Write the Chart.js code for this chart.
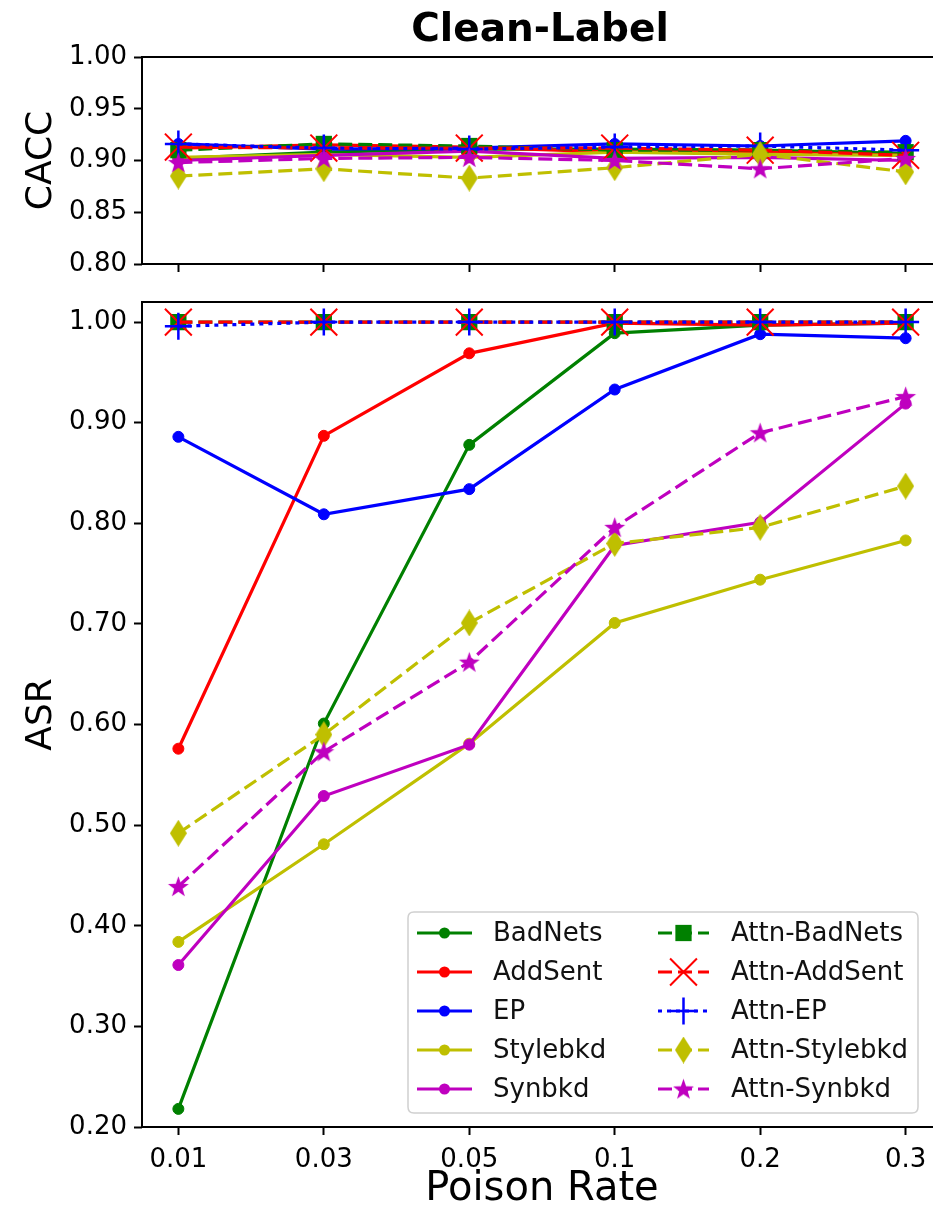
<!DOCTYPE html>
<html><head><meta charset="utf-8">
<script src="https://cdn.jsdelivr.net/npm/chart.js@4.4.1/dist/chart.umd.min.js"></script>
<style>
html,body{margin:0;padding:0;background:#fff;overflow:hidden;width:933px;height:1210px;}
#wrap{position:relative;width:933px;height:1210px;overflow:hidden;background:#fff;}
#c1{position:absolute;left:0;top:0;}
#c2{position:absolute;left:0;top:260px;}
</style></head><body>
<div id="wrap"><canvas id="c1" width="963" height="290"></canvas><canvas id="c2" width="963" height="954"></canvas></div>
<script>
// ---------------- DATA ----------------
const poisonRates = ['0.01', '0.03', '0.05', '0.1', '0.2', '0.3'];
const seriesNames = ['BadNets', 'AddSent', 'EP', 'Stylebkd', 'Synbkd',
  'Attn-BadNets', 'Attn-AddSent', 'Attn-EP', 'Attn-Stylebkd', 'Attn-Synbkd'];
const caccTicks = [0.80, 0.85, 0.90, 0.95, 1.00];
const asrTicks = [0.20, 0.30, 0.40, 0.50, 0.60, 0.70, 0.80, 0.90, 1.00];

// CACC (top panel)
const caccBadNets      = [0.902, 0.908, 0.911, 0.911, 0.910, 0.907];
const caccAddSent      = [0.912, 0.915, 0.913, 0.908, 0.908, 0.905];
const caccEP           = [0.916, 0.911, 0.912, 0.916, 0.914, 0.919];
const caccStylebkd     = [0.903, 0.906, 0.903, 0.908, 0.906, 0.905];
const caccSynbkd       = [0.900, 0.905, 0.909, 0.902, 0.903, 0.900];
const caccAttnBadNets  = [0.910, 0.916, 0.914, 0.910, 0.910, 0.908];
const caccAttnAddSent  = [0.913, 0.912, 0.912, 0.912, 0.910, 0.905];
const caccAttnEP       = [0.916, 0.912, 0.911, 0.913, 0.914, 0.910];
const caccAttnStylebkd = [0.885, 0.892, 0.883, 0.893, 0.906, 0.889];
const caccAttnSynbkd   = [0.898, 0.902, 0.903, 0.900, 0.892, 0.902];

// ASR (bottom panel)
const asrBadNets      = [0.218, 0.601, 0.878, 0.989, 0.997, 0.999];
const asrAddSent      = [0.576, 0.887, 0.969, 0.999, 0.997, 0.999];
const asrEP           = [0.886, 0.809, 0.834, 0.933, 0.988, 0.984];
const asrStylebkd     = [0.384, 0.481, 0.581, 0.701, 0.744, 0.783];
const asrSynbkd       = [0.361, 0.529, 0.580, 0.778, 0.801, 0.919];
const asrAttnBadNets  = [1.000, 1.000, 1.000, 1.000, 1.000, 1.000];
const asrAttnAddSent  = [1.000, 1.000, 1.000, 1.000, 1.000, 1.000];
const asrAttnEP       = [0.996, 1.000, 1.000, 1.000, 1.000, 1.000];
const asrAttnStylebkd = [0.492, 0.590, 0.701, 0.780, 0.796, 0.837];
const asrAttnSynbkd   = [0.439, 0.573, 0.662, 0.796, 0.890, 0.926];

const caccSeries = [caccBadNets, caccAddSent, caccEP, caccStylebkd, caccSynbkd,
  caccAttnBadNets, caccAttnAddSent, caccAttnEP, caccAttnStylebkd, caccAttnSynbkd];
const asrSeries = [asrBadNets, asrAddSent, asrEP, asrStylebkd, asrSynbkd,
  asrAttnBadNets, asrAttnAddSent, asrAttnEP, asrAttnStylebkd, asrAttnSynbkd];

// ---------------- STYLES ----------------
const GREEN = '#008000', RED = '#ff0000', BLUE = '#0000ff', YEL = '#bfbf00', MAG = '#bf00bf';
const seriesColors = [GREEN, RED, BLUE, YEL, MAG, GREEN, RED, BLUE, YEL, MAG];

function makeDiamond(color, w, h) {
  const c = document.createElement('canvas'); c.width = w; c.height = h;
  const g = c.getContext('2d'); g.fillStyle = color;
  g.beginPath(); g.moveTo(w / 2, 0); g.lineTo(w, h / 2); g.lineTo(w / 2, h); g.lineTo(0, h / 2); g.closePath(); g.fill();
  return c;
}
function makeStar(color, size) {
  const c = document.createElement('canvas'); c.width = size; c.height = size;
  const g = c.getContext('2d'); g.fillStyle = color;
  const cx = size / 2, cy = size / 2 + 0.8, R = size / 2 - 0.5, r = R * 0.4;
  g.beginPath();
  for (let i = 0; i < 10; i++) {
    const a = -Math.PI / 2 + i * Math.PI / 5;
    const rr = i % 2 === 0 ? R : r;
    const px = cx + rr * Math.cos(a), py = cy + rr * Math.sin(a);
    if (i === 0) g.moveTo(px, py); else g.lineTo(px, py);
  }
  g.closePath(); g.fill();
  return c;
}
const diamondImg = makeDiamond(YEL, 17, 27);
const starImg = makeStar(MAG, 23);

const DASH = [14, 6], DOT = [4, 5];
const styleOf = [
  { dash: [], ps: 'circle', pr: 5.5, pbw: 1 },
  { dash: [], ps: 'circle', pr: 5.5, pbw: 1 },
  { dash: [], ps: 'circle', pr: 5.5, pbw: 1 },
  { dash: [], ps: 'circle', pr: 5.5, pbw: 1 },
  { dash: [], ps: 'circle', pr: 5.5, pbw: 1 },
  { dash: DASH, ps: 'rect', pr: 11.5, pbw: 0 },
  { dash: DASH, ps: 'crossRot', pr: 19, pbw: 2 },
  { dash: DOT, ps: 'cross', pr: 13.5, pbw: 2.5 },
  { dash: DASH, ps: diamondImg, pr: 10, pbw: 0 },
  { dash: DASH, ps: starImg, pr: 10, pbw: 0 }
];

function buildDatasets(values) {
  return seriesNames.map((name, i) => ({
    label: name,
    data: values[i].map((v, j) => ({ x: j, y: v })),
    borderColor: seriesColors[i],
    backgroundColor: seriesColors[i],
    pointBackgroundColor: seriesColors[i],
    pointBorderColor: seriesColors[i],
    borderWidth: 3.2,
    borderDash: styleOf[i].dash,
    pointStyle: styleOf[i].ps,
    pointRadius: styleOf[i].pr,
    pointHoverRadius: styleOf[i].pr,
    pointBorderWidth: styleOf[i].pbw,
    tension: 0,
    order: 10 - i,
    clip: false
  }));
}

Chart.defaults.font.family = "'DejaVu Sans', sans-serif";
Chart.defaults.color = '#000';

const framePlugin = {
  id: 'frame',
  afterDatasetsDraw(chart) {
    const { ctx, chartArea: a } = chart;
    ctx.save(); ctx.strokeStyle = '#000'; ctx.lineWidth = 2;
    ctx.strokeRect(a.left, a.top, a.right - a.left, a.bottom - a.top);
    ctx.restore();
  }
};

const titlePlugin = {
  id: 'paneltitle',
  afterDraw(chart) {
    const { ctx, chartArea: a } = chart;
    ctx.save();
    ctx.font = "bold 39px 'DejaVu Sans'"; ctx.fillStyle = '#000';
    ctx.textAlign = 'center'; ctx.textBaseline = 'middle';
    ctx.fillText('Clean-Label', (a.left + a.right) / 2 - 2, 31);
    ctx.restore();
  }
};

function drawMarker(ctx, ds, x, y) {
  const st = ds.pointStyle, r = ds.pointRadius, col = ds.pointBackgroundColor;
  ctx.save();
  if (st instanceof HTMLCanvasElement) {
    ctx.drawImage(st, x - st.width / 2, y - st.height / 2);
  } else if (st === 'circle') {
    ctx.fillStyle = col; ctx.beginPath(); ctx.arc(x, y, r, 0, Math.PI * 2); ctx.fill();
  } else if (st === 'rect') {
    const s = r * Math.SQRT1_2; ctx.fillStyle = col; ctx.fillRect(x - s, y - s, 2 * s, 2 * s);
  } else if (st === 'crossRot' || st === 'cross') {
    const o = st === 'cross' ? r : r * Math.SQRT1_2;
    ctx.strokeStyle = col; ctx.lineWidth = ds.pointBorderWidth; ctx.beginPath();
    if (st === 'cross') { ctx.moveTo(x - o, y); ctx.lineTo(x + o, y); ctx.moveTo(x, y - o); ctx.lineTo(x, y + o); }
    else { ctx.moveTo(x - o, y - o); ctx.lineTo(x + o, y + o); ctx.moveTo(x - o, y + o); ctx.lineTo(x + o, y - o); }
    ctx.stroke();
  }
  ctx.restore();
}

const legendPlugin = {
  id: 'inlegend',
  afterDraw(chart) {
    const ctx = chart.ctx, a = chart.chartArea;
    const boxW = 510, boxH = 201;
    const x0 = a.right - 24 - boxW, y0 = a.bottom - 14 - boxH;
    ctx.save();
    const rr = 6;
    ctx.beginPath();
    ctx.moveTo(x0 + rr, y0); ctx.lineTo(x0 + boxW - rr, y0); ctx.quadraticCurveTo(x0 + boxW, y0, x0 + boxW, y0 + rr);
    ctx.lineTo(x0 + boxW, y0 + boxH - rr); ctx.quadraticCurveTo(x0 + boxW, y0 + boxH, x0 + boxW - rr, y0 + boxH);
    ctx.lineTo(x0 + rr, y0 + boxH); ctx.quadraticCurveTo(x0, y0 + boxH, x0, y0 + boxH - rr);
    ctx.lineTo(x0, y0 + rr); ctx.quadraticCurveTo(x0, y0, x0 + rr, y0); ctx.closePath();
    ctx.fillStyle = 'rgba(255,255,255,0.8)'; ctx.fill();
    ctx.strokeStyle = '#d0d0d0'; ctx.lineWidth = 1.5; ctx.stroke();
    ctx.font = "26px 'DejaVu Sans'"; ctx.textBaseline = 'middle'; ctx.textAlign = 'left';
    chart.data.datasets.forEach((ds, i) => {
      const col = Math.floor(i / 5), row = i % 5;
      const yy = y0 + 21 + row * 39;
      const lx1 = col === 0 ? x0 + 9 : x0 + 250;
      const lx2 = col === 0 ? x0 + 64 : x0 + 301;
      const mx = (lx1 + lx2) / 2;
      const tx = col === 0 ? x0 + 85 : x0 + 323;
      ctx.save();
      ctx.strokeStyle = ds.borderColor; ctx.lineWidth = 3; ctx.setLineDash(ds.borderDash || []);
      ctx.beginPath(); ctx.moveTo(lx1, yy); ctx.lineTo(lx2, yy); ctx.stroke();
      ctx.restore();
      drawMarker(ctx, ds, mx, yy);
      ctx.fillStyle = '#111'; ctx.fillText(ds.label, tx, yy + 1);
    });
    ctx.restore();
  }
};

function xScale(showLabels, height) {
  return {
    type: 'linear', min: -0.25, max: 5.25,
    afterBuildTicks: s => { s.ticks = poisonRates.map((_, i) => ({ value: i })); },
    afterFit: s => { s.height = height; },
    grid: { drawOnChartArea: false, drawTicks: true, tickLength: 8, tickColor: '#000', tickWidth: 2 },
    border: { display: false },
    ticks: { display: showLabels, padding: 10, font: { size: 26 }, color: '#000', maxRotation: 0, autoSkip: false,
      callback: (v) => poisonRates[Math.round(v)] },
    title: { display: showLabels, text: 'Poison Rate', font: { size: 40 }, color: '#000', padding: { top: 0, bottom: 0 } }
  };
}
function yScale(min, max, tickVals, title) {
  return {
    type: 'linear', min: min, max: max,
    afterBuildTicks: s => { s.ticks = tickVals.map(v => ({ value: v })); },
    afterFit: s => { s.width = 142; },
    grid: { drawOnChartArea: false, drawTicks: true, tickLength: 8, tickColor: '#000', tickWidth: 2 },
    border: { display: false },
    ticks: { padding: 7, font: { size: 26 }, color: '#000', autoSkip: false, callback: v => Number(v).toFixed(2) },
    title: { display: true, text: title, font: { size: 36 }, color: '#000', padding: { top: 20, bottom: 0 } }
  };
}

new Chart(document.getElementById('c1'), {
  type: 'line',
  data: { datasets: buildDatasets(caccSeries) },
  options: {
    responsive: false, animation: false, devicePixelRatio: 1,
    layout: { padding: { left: 0, right: 9, top: 57, bottom: 0 } },
    plugins: { legend: { display: false }, tooltip: { enabled: false }, title: { display: false } },
    scales: { x: xScale(false, 26), y: yScale(0.80, 1.00, caccTicks, 'CACC') }
  },
  plugins: [framePlugin, titlePlugin]
});

new Chart(document.getElementById('c2'), {
  type: 'line',
  data: { datasets: buildDatasets(asrSeries) },
  options: {
    responsive: false, animation: false, devicePixelRatio: 1,
    layout: { padding: { left: 0, right: 9, top: 42, bottom: 0 } },
    plugins: { legend: { display: false }, tooltip: { enabled: false } },
    scales: { x: xScale(true, 87), y: yScale(0.20, 1.02, asrTicks, 'ASR') }
  },
  plugins: [framePlugin, legendPlugin]
});
</script>
</body></html>
